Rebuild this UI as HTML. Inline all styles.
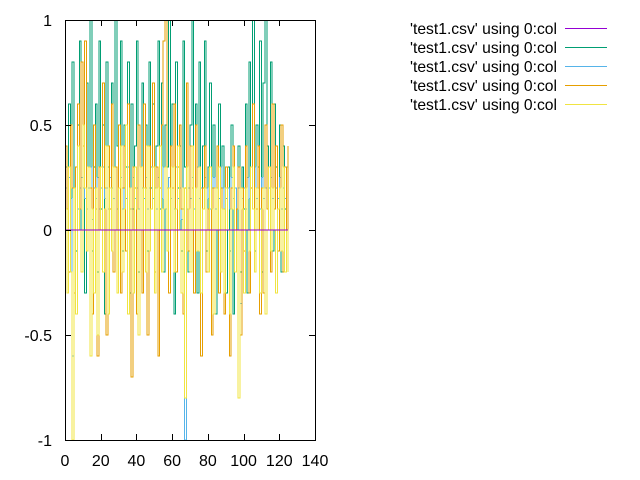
<!DOCTYPE html>
<html><head><meta charset="utf-8"><style>
html,body{margin:0;padding:0;background:#fff;}
svg{display:block;font-family:"Liberation Sans",sans-serif;}
</style></head><body>
<svg id="chart" width="640" height="480" viewBox="0 0 640 480" xmlns="http://www.w3.org/2000/svg">
<defs><clipPath id="pc"><rect x="65" y="20" width="250" height="420"/></clipPath></defs>
<g id="series" clip-path="url(#pc)" shape-rendering="crispEdges"></g>
<rect x="65.5" y="20.5" width="250" height="420" fill="none" stroke="#000" shape-rendering="crispEdges"/>
<g id="axes"></g>
<g id="legend"></g>
</svg>
<script>
const xTicks=[0,20,40,60,80,100,120,140];
const yTicks=[-1,-0.5,0,0.5,1];
const yTickLabels=["-1","-0.5","0","0.5","1"];
const seriesNames=["'test1.csv' using 0:col","'test1.csv' using 0:col","'test1.csv' using 0:col","'test1.csv' using 0:col","'test1.csv' using 0:col"];
const seriesColors=["#9400d3","#009e73","#56b4e9","#e69f00","#f0e442"];
const purpleVals=new Array(126).fill(0);
const greenVals=[0.3,0.1,0.6,-0.2,0.8,0.2,-0.1,0.5,0.9,0.0,
0.4,-0.3,0.7,0.2,1.0,-0.1,0.3,0.6,-0.2,0.9,
0.1,0.5,-0.4,0.8,0.3,0.0,0.7,-0.2,1.0,0.4,
0.2,0.9,-0.1,0.5,0.3,0.8,-0.3,0.6,0.1,0.4,
0.9,-0.2,0.3,0.7,0.0,0.5,-0.1,0.8,0.2,0.6,
-0.3,0.4,0.9,0.1,0.7,-0.2,0.5,0.3,1.0,0.0,
0.6,-0.4,0.8,0.2,0.4,-0.1,0.9,0.3,0.7,-0.2,
0.5,1.0,0.1,0.6,-0.3,0.8,0.2,0.4,0.9,-0.1,
0.3,0.7,0.0,0.5,-0.4,0.2,0.6,-0.2,0.4,0.1,
-0.3,0.3,-0.1,0.5,-0.4,0.2,0.0,0.4,-0.2,0.3,
0.1,0.6,-0.3,0.8,0.2,1.0,-0.1,0.5,0.3,0.9,
-0.2,0.7,1.0,0.4,0.2,0.8,-0.1,0.6,0.3,0.0,
0.5,-0.2,0.4,0.1,0.3,-0.1];
const blueVals=[0.2,0.1,0.25,0.15,-0.6,0.2,0.3,0.1,0.2,0.25,
0.2,0.15,0.1,0.2,0.3,0.05,0.2,0.15,0.25,0.1,
0.2,0.3,0.15,0.2,0.1,0.25,0.2,0.15,0.3,0.1,
0.2,0.25,0.1,0.2,0.15,0.3,0.2,0.1,0.25,0.15,
0.2,0.1,0.3,0.2,0.15,0.25,0.1,0.2,0.3,0.15,
0.2,0.1,0.25,0.2,0.15,0.3,0.1,0.2,0.25,0.15,
0.2,0.1,0.3,0.15,0.2,0.05,0.1,-1.0,0.1,0.2,
0.15,0.25,0.1,0.2,0.3,0.15,0.2,0.1,0.25,0.2,
0.15,0.1,0.2,0.25,0.1,0.2,0.15,0.3,0.2,0.1,
0.15,0.2,0.1,0.25,0.15,0.2,0.1,0.2,-0.35,0.15,
0.2,0.1,0.25,0.15,0.2,0.1,0.3,0.15,0.2,0.1,
0.25,0.15,0.2,0.1,0.2,0.25,0.15,0.1,0.2,0.15,
0.25,0.1,0.2,0.15,0.3,0.2];
const orangeVals=[0.4,0.1,-0.2,0.5,0.2,-0.3,0.3,0.6,0.1,0.8,
0.4,0.9,-0.1,0.3,0.2,-0.4,0.5,0.1,-0.6,0.3,
0.0,0.7,0.2,-0.5,0.4,0.1,0.6,-0.2,0.3,0.0,
0.5,-0.3,0.2,0.4,-0.1,0.6,0.1,-0.7,0.3,0.2,
-0.4,0.5,0.0,-0.3,0.6,0.2,-0.5,0.4,0.1,0.7,
-0.2,0.3,-0.6,0.2,0.5,0.9,1.0,0.0,-0.3,0.4,
0.2,0.6,-0.2,0.3,0.5,0.1,-0.4,0.2,0.7,-0.1,
0.4,0.2,-0.3,0.5,0.0,0.3,-0.6,0.2,0.4,-0.2,
0.1,0.3,-0.5,0.2,0.0,0.4,-0.3,0.2,0.1,-0.4,
0.3,0.0,-0.6,0.2,0.4,-0.2,0.1,0.3,-0.5,0.2,
-0.1,0.4,0.0,-0.3,0.2,0.6,-0.2,0.1,0.4,-0.4,
0.2,-0.3,0.5,0.1,0.3,-0.2,0.6,0.1,0.4,-0.1,
0.2,0.5,-0.2,0.3,0.0,0.4];
const yellowVals=[0.1,-0.3,0.3,-0.2,-1.0,0.2,-0.4,0.4,0.0,-0.2,
0.5,0.2,-0.1,0.3,-0.6,0.1,-0.3,0.2,-0.5,0.0,
0.3,-0.2,0.1,0.4,-0.4,0.2,-0.1,0.3,0.0,-0.3,
0.2,0.4,-0.2,0.1,0.5,-0.4,0.2,0.0,-0.3,0.3,
0.1,-0.5,0.3,0.0,0.2,-0.2,0.4,-0.1,0.1,0.3,
-0.3,0.2,0.0,0.4,-0.2,0.1,0.3,-0.1,0.2,0.0,
0.3,-0.2,0.1,0.4,0.0,-0.3,0.2,-0.8,0.3,0.1,
-0.2,0.4,0.0,0.2,-0.1,0.3,-0.3,0.1,0.2,0.0,
-0.2,0.3,0.1,-0.4,0.2,0.0,0.3,-0.2,0.1,-0.3,
0.2,0.0,-0.4,0.1,0.3,-0.2,0.0,-0.8,0.2,0.1,
-0.3,0.2,0.0,-0.1,0.3,0.1,-0.2,0.2,0.0,-0.3,
0.1,0.2,-0.4,0.0,0.3,-0.1,0.2,0.0,-0.3,0.1,
0.2,-0.1,0.3,-0.2,0.0,-0.2];
const allSeries=[purpleVals,greenVals,blueVals,orangeVals,yellowVals];

const NS="http://www.w3.org/2000/svg";
const X0=65,X1=315,Y0=440,Y1=20;
function xs(v){return X0+(v-0)/(140-0)*(X1-X0);}
function ys(v){return Y0-(v+1)/2*(Y0-Y1);}

const sg=document.getElementById('series');
const draw=[1,2,3,4,0];
draw.forEach(si=>{
  const vals=allSeries[si];
  let d="";
  vals.forEach((v,i)=>{
    const px=xs(i),py=ys(v);
    if(i===0)d+="M"+px+","+py;
    else d+="V"+py;
    d+="H"+xs(i+1<vals.length?i+1:i);
  });
  const p=document.createElementNS(NS,'path');
  p.setAttribute('d',d);
  p.setAttribute('fill','none');
  p.setAttribute('stroke',seriesColors[si]);
  p.setAttribute('stroke-width','1');
  
  
  sg.appendChild(p);
});

const ax=document.getElementById('axes');
function add(tag,attrs,txt){const e=document.createElementNS(NS,tag);for(const k in attrs)e.setAttribute(k,attrs[k]);if(txt!==undefined)e.textContent=txt;ax.appendChild(e);return e;}
xTicks.forEach(t=>{
  const x=Math.round(xs(t))+0.5;
  const l=add('path',{d:`M${x},440V434M${x},20V26`,stroke:'#000',fill:'none'});
  
  
  const tx=add('text',{x:xs(t),y:466,'text-anchor':'middle','font-size':'16'},String(t));
  
  
});
yTicks.forEach((t,i)=>{
  const y=Math.round(ys(t))+0.5;
  const l=add('path',{d:`M65,${y}H71M315,${y}H309`,stroke:'#000',fill:'none'});
  
  
  const tx=add('text',{x:52,y:ys(t)+6,'text-anchor':'end','font-size':'16'},yTickLabels[i]);
  
  
});

const lg=document.getElementById('legend');
seriesNames.forEach((n,i)=>{
  const y=28+i*19;
  const t=document.createElementNS(NS,'text');
  t.setAttribute('x',410);t.setAttribute('y',y+6);
  t.setAttribute('font-size','16');
  t.setAttribute('textLength','147');
  t.setAttribute('lengthAdjust','spacingAndGlyphs');
  t.textContent=n;
  
  
  lg.appendChild(t);
  const l=document.createElementNS(NS,'path');
  l.setAttribute('d',`M565,${y+0.5}H607`);
  l.setAttribute('stroke',seriesColors[i]);
  
  
  lg.appendChild(l);
});
</script>
</body></html>
